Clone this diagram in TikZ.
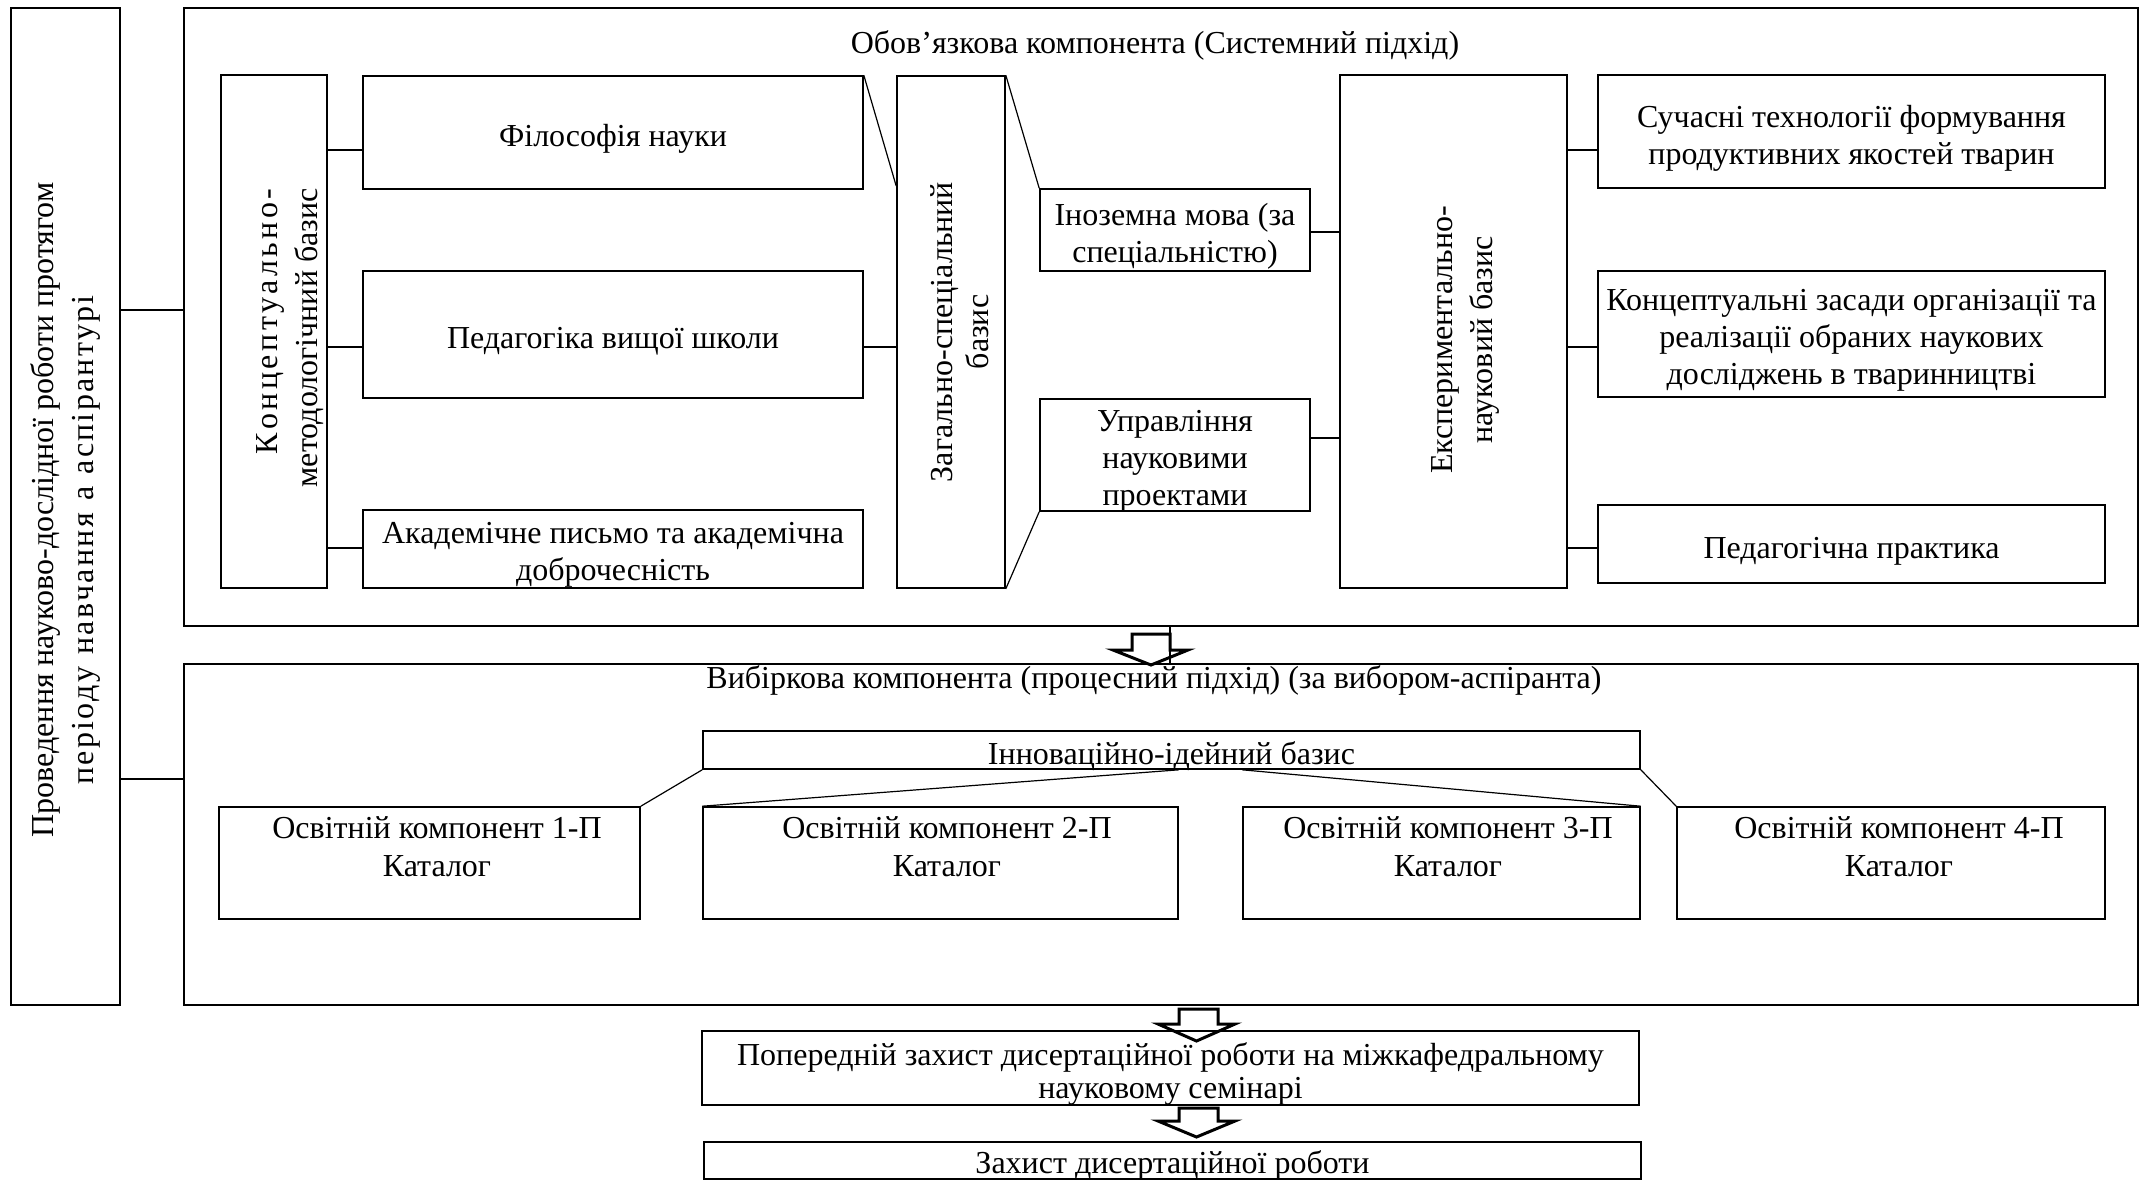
\documentclass[tikz,border=0pt]{standalone}
\usepackage{fontspec}
\setmainfont{Liberation Serif}
\def\mysprd#1{\mysprdi#1\relax}
\def\mysprdi#1{\ifx\relax#1\else#1\hfil\expandafter\mysprdi\fi}
\begin{document}
\begin{tikzpicture}[x=0.5pt,y=-0.5pt,
  font=\fontsize{16}{18.5}\selectfont,
  box/.style={draw, line width=0.8pt, inner sep=0pt},
  conn/.style={line width=0.6pt},
  blockarrow/.style={draw, line width=1.5pt, line join=miter},
  txt/.style={inner sep=0pt, align=center},
  btxt/.style={inner sep=0pt, align=center, yshift=-3pt},
  vtxt/.style={inner sep=0pt, align=center, rotate=90, font=\fontsize{16}{20}\selectfont}]
\useasboundingbox (0,0) rectangle (2147,1180);

% outer frames
\node[box, minimum width=54.5pt, minimum height=498.5pt] (lbox) at (65.5,506.5) {};
\node[box, minimum width=977pt, minimum height=309pt] (obox) at (1161,317) {};
\node[box, minimum width=977pt, minimum height=170.5pt] (vbox) at (1161,834.5) {};

% titles
\node[txt] (otitle) at (1155,45) {Обов’язкова компонента (Системний підхід)};
\node[txt] (vtitle) at (1154,680) {Вибіркова компонента (процесний підхід) (за вибором-аспіранта)};

% left rotated text
\node[vtxt] (lboxt) at (65,510) {Проведення науково-дослідної роботи протягом\\\makebox[244.5pt][s]{\mysprd{періоду~навчання~а~аспірантурі}\unskip}\rule{30pt}{0pt}};

% obligatory component boxes
\node[box, minimum width=53pt, minimum height=256.5pt] (konc) at (274,331.5) {};
\node[vtxt, align=right, anchor=east] (konct) at (290,188) {\makebox[133pt][s]{\mysprd{Концептуально-}\unskip}\\методологічний базис};

\node[box, minimum width=250pt, minimum height=56.5pt] (fil) at (613,132.5) {};
\node[btxt] (filt) at (fil.center) {Філософія науки};
\node[box, minimum width=250pt, minimum height=63.5pt] (ped) at (613,334.5) {};
\node[btxt, yshift=-0.5pt] (pedt) at (ped.center) {Педагогіка вищої школи};
\node[box, minimum width=250pt, minimum height=39pt] (akad) at (613,549) {};
\node[btxt] (akadt) at (akad.center) {Академічне письмо та академічна\\доброчесність};

\node[box, minimum width=54pt, minimum height=256pt] (zag) at (951,332) {};
\node[vtxt, font=\fontsize{16}{18}\selectfont] (zagt) at (960,332) {Загально-спеціальний\\базис};

\node[box, minimum width=135pt, minimum height=41pt] (inoz) at (1175,230) {};
\node[btxt] (inozt) at (inoz.center) {Іноземна мова (за\\спеціальністю)};
\node[box, minimum width=135pt, minimum height=56pt] (upr) at (1175,455) {};
\node[btxt] (uprt) at (upr.center) {Управління\\науковими\\проектами};

\node[box, minimum width=113.5pt, minimum height=256.5pt] (exp) at (1453.5,331.5) {};
\node[vtxt] (expt) at (1465,340) {Експериментально-\\науковий базис};

\node[box, minimum width=253.5pt, minimum height=56.5pt] (such) at (1851.5,131.5) {};
\node[btxt, yshift=-0.5pt] (sucht) at (such.center) {Сучасні технології формування\\продуктивних якостей тварин};
\node[box, minimum width=253.5pt, minimum height=63pt] (konz) at (1851.5,334) {};
\node[btxt] (konzt) at (konz.center) {Концептуальні засади організації та\\реалізації обраних наукових\\досліджень в тваринництві};
\node[box, minimum width=253.5pt, minimum height=39pt] (pedp) at (1851.5,544) {};
\node[btxt, yshift=-0.5pt] (pedpt) at (pedp.center) {Педагогічна практика};

% elective component
\node[box, minimum width=468.5pt, minimum height=19pt] (inn) at (1171.5,750) {};
\node[btxt] (innt) at (inn.center) {Інноваційно-ідейний базис};
\node[box, minimum width=210.5pt, minimum height=56pt] (os1) at (429.5,863) {};
\node[box, minimum width=237.5pt, minimum height=56pt] (os2) at (940.5,863) {};
\node[box, minimum width=198.5pt, minimum height=56pt] (os3) at (1441.5,863) {};
\node[box, minimum width=214pt, minimum height=56pt] (os4) at (1891,863) {};
\node[txt, font=\fontsize{16}{19}\selectfont] (os1t) at (437,847) {Освітній компонент 1-П\\Каталог};
\node[txt, font=\fontsize{16}{19}\selectfont] (os2t) at (947,847) {Освітній компонент 2-П\\Каталог};
\node[txt, font=\fontsize{16}{19}\selectfont] (os3t) at (1448,847) {Освітній компонент 3-П\\Каталог};
\node[txt, font=\fontsize{16}{19}\selectfont] (os4t) at (1899,847) {Освітній компонент 4-П\\Каталог};

% final steps
\node[box, minimum width=468.5pt, minimum height=37pt] (pop) at (1170.5,1068) {};
\node[btxt, font=\fontsize{16}{16.5}\selectfont] (popt) at (pop.center) {Попередній захист дисертаційної роботи на міжкафедральному\\науковому семінарі};
\node[box, minimum width=468.5pt, minimum height=18.5pt] (zah) at (1172.5,1160.5) {};
\node[btxt, yshift=0.5pt] (zaht) at (zah.center) {Захист дисертаційної роботи};

% connectors
\draw[conn] (lbox.east |- 0,310) -- (obox.west |- 0,310);
\draw[conn] (lbox.east |- 0,779) -- (vbox.west |- 0,779);
\draw[conn] (konc.east |- 0,150) -- (fil.west |- 0,150);
\draw[conn] (konc.east |- 0,347) -- (ped.west |- 0,347);
\draw[conn] (konc.east |- 0,548) -- (akad.west |- 0,548);
\draw[conn, line width=0.9pt] (ped.east |- 0,347) -- (zag.west |- 0,347);
\draw[conn] (fil.north east) -- (zag.west |- 0,186);
\draw[conn] (zag.north east) -- (inoz.north west);
\draw[conn] (zag.south east) -- (upr.south west);
\draw[conn] (inoz.east |- 0,232) -- (exp.west |- 0,232);
\draw[conn] (upr.east |- 0,438) -- (exp.west |- 0,438);
\draw[conn] (exp.east |- 0,150) -- (such.west |- 0,150);
\draw[conn] (exp.east |- 0,347) -- (konz.west |- 0,347);
\draw[conn] (exp.east |- 0,548) -- (pedp.west |- 0,548);
\draw[conn] (inn.south west) -- (os1.north east);
\draw[conn] (os2.north east |- inn.south) -- (os2.north west);
\draw[conn] (os3.north west |- inn.south) -- (os3.north east);
\draw[conn] (inn.south east) -- (os4.north west);

% block arrows
\draw[blockarrow] (1132,634) -- (1170,634) -- (1170,650) -- (1188,650) -- (1151,665) -- (1113,650) -- (1132,650) -- cycle;
\draw[conn] (obox.south -| 1170,0) -- (vbox.north -| 1170,0);
\draw[blockarrow] (1179,1009) -- (1218,1009) -- (1218,1024) -- (1235,1024) -- (1196.5,1041) -- (1158,1024) -- (1179,1024) -- cycle;
\draw[blockarrow] (1179,1108) -- (1218,1108) -- (1218,1121) -- (1235,1121) -- (1196.5,1137) -- (1158,1121) -- (1179,1121) -- cycle;
\end{tikzpicture}
\end{document}
